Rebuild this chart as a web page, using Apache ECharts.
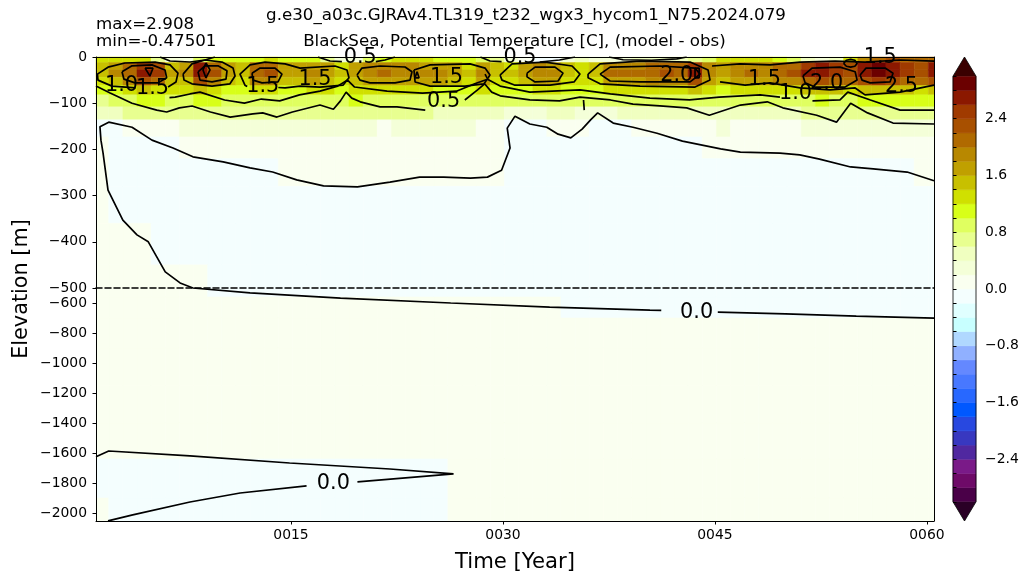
<!DOCTYPE html>
<html><head><meta charset="utf-8">
<script src="https://cdn.jsdelivr.net/npm/echarts@6/dist/echarts.min.js"></script>
<style>html,body{margin:0;padding:0;background:#fff}#c{width:1029px;height:584px}</style>
</head><body><div id="c"></div>
<script>
// ---------------- data ----------------
const years = [1,2,3,4,5,6,7,8,9,10,11,12,13,14,15,16,17,18,19,20,21,22,23,24,25,26,27,28,29,30,
               31,32,33,34,35,36,37,38,39,40,41,42,43,44,45,46,47,48,49,50,51,52,53,54,55,56,57,58,59,60];
const depthEdges = [0,12,28,44,62,82,108,136,173,220,280,360,450,560,700,900,1150,1400,1640,1900,2060];

const lev00 = [1.3,1.3,1.3,1.3,0.6,0.3,0.3,0.8,1.0,1.1, 1.1,1.1,1.2,1.1,1.1,1.0,0.7,0.3,0.3,0.9,
               1.1,1.2,1.2,1.2,1.1,1.1,1.0,0.9,0.6,0.3, 0.1,-0.1,-0.1,0.3,0.5,0.3,0.3,0.3,0.4,0.4,
               0.4,0.5,0.6,0.8,1.2,1.3,1.3,1.2,1.1,0.9, 0.5,0.3,0.4,1.2,1.9,2.1,2.2,2.1,2.0,2.1];
const lev01 = [1.4,1.7,2.0,2.5,2.3,1.5,1.7,2.6,2.1,1.6, 1.4,2.0,2.1,1.6,1.6,1.7,1.6,1.3,1.6,1.9,
               1.9,1.9,1.8,1.7,1.7,1.6,1.3,1.7,1.4,1.3, 1.6,1.8,1.7,1.4,1.2,1.4,1.9,1.9,1.9,2.0,
               2.1,2.0,2.5,1.8,1.6,1.8,1.9,1.8,2.0,2.1, 2.4,2.6,2.4,2.2,2.6,2.9,2.6,2.4,2.2,2.6];
const lev02 = [1.5,1.8,2.1,2.7,2.5,1.6,1.8,2.7,2.3,1.7, 1.5,2.1,2.2,1.7,1.7,1.8,1.7,1.4,1.7,1.9,
               2.0,1.9,1.9,1.8,1.8,1.7,1.4,1.8,1.5,1.4, 1.7,1.9,1.8,1.5,1.3,1.5,2.0,2.0,2.0,2.1,
               2.2,2.1,2.6,1.9,1.7,1.9,2.0,1.9,2.1,2.3, 2.6,2.7,2.5,2.3,2.7,2.9,2.7,2.5,2.3,2.6];
const lev03 = [1.3,1.5,1.8,2.3,2.1,1.4,1.5,2.3,1.9,1.5, 1.3,1.8,1.9,1.5,1.5,1.6,1.5,1.3,1.5,1.7,
               1.7,1.7,1.6,1.6,1.6,1.5,1.3,1.6,1.3,1.3, 1.5,1.7,1.6,1.3,1.2,1.3,1.7,1.7,1.7,1.8,
               1.9,1.8,2.2,1.6,1.5,1.6,1.7,1.6,1.8,1.9, 2.1,2.3,2.1,2.0,2.3,2.5,2.3,2.1,2.0,2.3];
const lev04 = [1.0,1.1,1.2,1.4,1.3,1.2,1.2,1.4,1.3,1.1, 1.1,1.3,1.3,1.1,1.1,1.2,1.2,1.1,1.2,1.2,
               1.2,1.2,1.2,1.2,1.1,1.1,1.1,1.2,1.1,1.1, 1.1,1.2,1.2,1.1,1.0,1.1,1.2,1.2,1.2,1.3,
               1.3,1.3,1.4,1.2,1.1,1.2,1.2,1.2,1.3,1.3, 1.4,1.5,1.4,1.3,1.4,1.5,1.5,1.4,1.3,1.4];
const lev05 = [0.7,0.8,0.9,1.0,1.0,0.9,0.9,1.0,1.0,0.9, 0.8,0.9,0.9,0.9,0.9,0.9,0.9,0.9,1.0,0.9,
               0.9,0.9,0.9,0.8,0.8,0.8,0.8,0.9,0.9,0.8, 0.8,0.9,0.9,0.8,0.8,0.8,0.9,0.9,0.9,0.9,
               0.9,0.9,0.9,0.8,0.9,0.9,0.9,0.9,0.9,0.9, 0.9,1.0,0.9,0.9,1.0,1.1,1.1,1.1,1.0,1.0];
const lev06 = [0.4,0.5,0.6,0.7,0.7,0.6,0.6,0.6,0.7,0.7, 0.6,0.6,0.6,0.7,0.6,0.6,0.6,0.6,0.6,0.6,
               0.6,0.6,0.6,0.6,0.5,0.5,0.5,0.5,0.4,0.3, 0.2,0.3,0.4,0.4,0.3,0.2,0.3,0.4,0.5,0.5,
               0.5,0.5,0.5,0.5,0.5,0.4,0.4,0.4,0.5,0.5, 0.6,0.6,0.7,0.7,0.7,0.7,0.7,0.7,0.7,0.7];
const lev07 = [-0.1,-0.1,0.1,0.1,0.1,0.1,0.2,0.2,0.3,0.3, 0.3,0.3,0.3,0.3,0.3,0.3,0.3,0.3,0.3,0.2,
               0.1,0.3,0.3,0.3,0.3,0.3,0.2,0.1,0.1,-0.1, -0.1,-0.1,0.1,0.1,0.1,-0.1,-0.1,-0.1,0.1,0.1,
               0.1,0.1,0.1,0.1,0.2,0.1,0.1,0.1,0.1,0.1, 0.2,0.2,0.2,0.3,0.3,0.3,0.3,0.3,0.3,0.3];
const lev08 = [0.1,-0.1,-0.1,-0.1,-0.1,-0.1,0.1,0.1,0.1,0.1, 0.1,0.1,0.1,0.1,0.1,0.1,0.1,0.1,0.1,0.1,
               0.1,0.1,0.1,0.1,0.1,0.1,0.1,0.1,0.1,-0.1, -0.1,-0.1,-0.1,-0.1,-0.1,-0.1,-0.1,-0.1,-0.1,-0.1,
               -0.1,-0.1,-0.1,0.1,0.1,0.1,0.1,0.1,0.1,0.1, 0.1,0.1,0.1,0.1,0.1,0.1,0.1,0.1,0.1,0.1];
const lev09 = [0.1,-0.1,-0.1,-0.1,-0.1,-0.1,-0.1,-0.1,-0.1,-0.1, -0.1,-0.1,-0.1,0.1,0.1,0.1,0.1,0.1,0.1,0.1,
               0.1,0.1,0.1,0.1,0.1,0.1,0.1,0.1,0.1,-0.1, -0.1,-0.1,-0.1,-0.1,-0.1,-0.1,-0.1,-0.1,-0.1,-0.1,
               -0.1,-0.1,-0.1,-0.1,-0.1,-0.1,-0.1,-0.1,-0.1,-0.1, -0.1,-0.1,-0.1,-0.1,-0.1,-0.1,-0.1,-0.1,0.1,0.1];
const lev10 = [0.1,-0.1,-0.1,-0.1,-0.1,-0.1,-0.1,-0.1,-0.1,-0.1, -0.1,-0.1,-0.1,-0.1,-0.1,-0.1,-0.1,-0.1,-0.1,-0.1,
               -0.1,-0.1,-0.1,-0.1,-0.1,-0.1,-0.1,-0.1,-0.1,-0.1, -0.1,-0.1,-0.1,-0.1,-0.1,-0.1,-0.1,-0.1,-0.1,-0.1,
               -0.1,-0.1,-0.1,-0.1,-0.1,-0.1,-0.1,-0.1,-0.1,-0.1, -0.1,-0.1,-0.1,-0.1,-0.1,-0.1,-0.1,-0.1,-0.1,-0.1];
const lev11 = [0.1,0.1,0.1,0.1,-0.1,-0.1,-0.1,-0.1,-0.1,-0.1, -0.1,-0.1,-0.1,-0.1,-0.1,-0.1,-0.1,-0.1,-0.1,-0.1,
               -0.1,-0.1,-0.1,-0.1,-0.1,-0.1,-0.1,-0.1,-0.1,-0.1, -0.1,-0.1,-0.1,-0.1,-0.1,-0.1,-0.1,-0.1,-0.1,-0.1,
               -0.1,-0.1,-0.1,-0.1,-0.1,-0.1,-0.1,-0.1,-0.1,-0.1, -0.1,-0.1,-0.1,-0.1,-0.1,-0.1,-0.1,-0.1,-0.1,-0.1];
const lev12 = [0.1,0.1,0.1,0.1,0.1,0.1,0.1,0.1,-0.1,-0.1, -0.1,-0.1,-0.1,-0.1,-0.1,-0.1,-0.1,-0.1,-0.1,-0.1,
               -0.1,-0.1,-0.1,-0.1,-0.1,-0.1,-0.1,-0.1,-0.1,-0.1, -0.1,-0.1,-0.1,-0.1,-0.1,-0.1,-0.1,-0.1,-0.1,-0.1,
               -0.1,-0.1,-0.1,-0.1,-0.1,-0.1,-0.1,-0.1,-0.1,-0.1, -0.1,-0.1,-0.1,-0.1,-0.1,-0.1,-0.1,-0.1,-0.1,-0.1];
const lev13 = [0.1,0.1,0.1,0.1,0.1,0.1,0.1,0.1,0.1,0.1, 0.1,0.1,0.1,0.1,0.1,0.1,0.1,0.1,0.1,0.1,
               0.1,0.1,0.1,0.1,0.1,0.1,0.1,0.1,0.1,0.1, 0.1,0.1,0.1,-0.1,-0.1,-0.1,-0.1,-0.1,-0.1,-0.1,
               -0.1,-0.1,-0.1,-0.1,-0.1,-0.1,-0.1,-0.1,-0.1,-0.1, -0.1,-0.1,-0.1,-0.1,-0.1,-0.1,-0.1,-0.1,-0.1,-0.1];
const lev14 = [0.1,0.1,0.1,0.1,0.1,0.1,0.1,0.1,0.1,0.1, 0.1,0.1,0.1,0.1,0.1,0.1,0.1,0.1,0.1,0.1,
               0.1,0.1,0.1,0.1,0.1,0.1,0.1,0.1,0.1,0.1, 0.1,0.1,0.1,0.1,0.1,0.1,0.1,0.1,0.1,0.1,
               0.1,0.1,0.1,0.1,0.1,0.1,0.1,0.1,0.1,0.1, 0.1,0.1,0.1,0.1,0.1,0.1,0.1,0.1,0.1,0.1];
const lev15 = [0.1,0.1,0.1,0.1,0.1,0.1,0.1,0.1,0.1,0.1, 0.1,0.1,0.1,0.1,0.1,0.1,0.1,0.1,0.1,0.1,
               0.1,0.1,0.1,0.1,0.1,0.1,0.1,0.1,0.1,0.1, 0.1,0.1,0.1,0.1,0.1,0.1,0.1,0.1,0.1,0.1,
               0.1,0.1,0.1,0.1,0.1,0.1,0.1,0.1,0.1,0.1, 0.1,0.1,0.1,0.1,0.1,0.1,0.1,0.1,0.1,0.1];
const lev16 = [0.1,0.1,0.1,0.1,0.1,0.1,0.1,0.1,0.1,0.1, 0.1,0.1,0.1,0.1,0.1,0.1,0.1,0.1,0.1,0.1,
               0.1,0.1,0.1,0.1,0.1,0.1,0.1,0.1,0.1,0.1, 0.1,0.1,0.1,0.1,0.1,0.1,0.1,0.1,0.1,0.1,
               0.1,0.1,0.1,0.1,0.1,0.1,0.1,0.1,0.1,0.1, 0.1,0.1,0.1,0.1,0.1,0.1,0.1,0.1,0.1,0.1];
const lev17 = [0.05,0.05,0.05,0.05,0.05,0.05,0.05,0.05,0.05,0.05, 0.05,0.05,0.05,0.05,0.05,0.05,0.05,0.05,0.05,0.05,
               0.05,0.05,0.05,0.05,0.05,0.05,0.05,0.05,0.05,0.05, 0.1,0.1,0.1,0.1,0.1,0.1,0.1,0.1,0.1,0.1,
               0.1,0.1,0.1,0.1,0.1,0.1,0.1,0.1,0.1,0.1, 0.1,0.1,0.1,0.1,0.1,0.1,0.1,0.1,0.1,0.1];
const lev18 = [-0.1,-0.1,-0.1,-0.1,-0.1,-0.1,-0.1,-0.1,-0.1,-0.1, -0.1,-0.1,-0.1,-0.1,-0.1,-0.1,-0.1,-0.1,-0.1,-0.1,
               -0.05,-0.05,-0.05,-0.05,-0.05,0.05,0.05,0.05,0.05,0.05, 0.05,0.05,0.05,0.05,0.05,0.05,0.05,0.05,0.05,0.05,
               0.05,0.05,0.05,0.05,0.05,0.05,0.05,0.05,0.05,0.05, 0.05,0.05,0.05,0.05,0.05,0.05,0.05,0.05,0.05,0.05];
const lev19 = [0.05,-0.1,-0.1,-0.1,-0.1,-0.1,-0.1,-0.1,-0.1,-0.1, -0.1,-0.1,-0.1,-0.1,-0.1,-0.1,-0.1,-0.1,-0.1,-0.1,
               -0.05,-0.05,-0.05,-0.05,-0.05,0.05,0.05,0.05,0.05,0.05, 0.05,0.05,0.05,0.05,0.05,0.05,0.05,0.05,0.05,0.05,
               0.05,0.05,0.05,0.05,0.05,0.05,0.05,0.05,0.05,0.05, 0.05,0.05,0.05,0.05,0.05,0.05,0.05,0.05,0.05,0.05];

// contour lines: [year, elevation m]
const zeroUpper = [[60.5,-268],[58.6,-249],[56.2,-242],[54.6,-238],[52.4,-221],[51.0,-212],[49.6,-208],[46.8,-206],[45.4,-199],[42.7,-182],[40.9,-165],[39.2,-152],[37.8,-143],[36.7,-121],[36.2,-136],[35.6,-156],[34.8,-175],[33.9,-167],[33.1,-152],[31.9,-145],[30.85,-128],[30.3,-154],[30.5,-197],[29.9,-245],[28.9,-260],[27.7,-262],[25.8,-260],[24.1,-260],[22.0,-271],[19.7,-281],[17.3,-279],[15.4,-266],[13.7,-249],[12.1,-240],[10.2,-227],[8.06,-216],[6.65,-197],[5.16,-180],[3.75,-152],[2.1,-141],[1.48,-151],[1.55,-180],[1.7,-208],[2.05,-288],[3.1,-353],[4.1,-385],[4.9,-400],[6.1,-465],[7.15,-489],[8.06,-500]];
const zeroTick = [[35.7,-93],[35.75,-115]];
const zeroLowerA = [[8.06,-500],[12.1,-533],[18.5,-567],[26.3,-600],[33.3,-627],[40.4,-647],[41.2,-649]];
const zeroLowerB = [[45.2,-661],[50.0,-673],[55.0,-687],[60.5,-701]];
const zeroDeepA = [[1.2,-1625],[2.1,-1587],[7.85,-1620],[14.9,-1667],[22.0,-1707],[26.5,-1740],[19.7,-1793]];
const zeroDeepB = [[16.1,-1820],[11.4,-1867],[7.85,-1927],[3.8,-2013],[2.05,-2053]];
const c05a = [[1.2,-63],[2.2,-78],[3.75,-100],[5.5,-115],[6.2,-119],[7.1,-110],[8.0,-106],[9.3,-119],[10.7,-130],[12.3,-123],[13.0,-121],[14.0,-130],[15.1,-119],[17.05,-104],[18.0,-113],[18.5,-95],[18.9,-76],[19.3,-89],[19.9,-97],[21.3,-108],[22.5,-108],[24.5,-115]];
const c05b = [[27.3,-93],[28.2,-71],[28.7,-58],[29.2,-76],[29.8,-84],[31.9,-93],[34.0,-95],[35.45,-87],[37.6,-93],[39.2,-102],[41.1,-106],[43.0,-110],[44.6,-126],[46.8,-104],[48.7,-97],[49.8,-110],[52.2,-126],[53.6,-141],[54.6,-100],[55.8,-121],[57.6,-143],[60.5,-145]];
const c10a = [[6.4,-88],[6.8,-87],[7.85,-80],[8.56,-76],[10.3,-93],[11.7,-100],[12.9,-91],[14.2,-95],[15.6,-82],[17.05,-74],[18.3,-63],[19.0,-50],[19.5,-65],[21.8,-74],[24.3,-78],[26.7,-74],[28.0,-58],[28.9,-48],[29.8,-63],[31.9,-76],[35.45,-71],[37.6,-80],[40.4,-89],[43.2,-93],[45.3,-87],[48.2,-82],[49.6,-87]];
const c10b = [[51.9,-95],[53.85,-93],[54.4,-76],[56.0,-93],[58.1,-115],[60.5,-115]];
const loopA = [[4.0,-67],[2.33,-63],[1.34,-50],[1.3,-37],[2.05,-22],[3.25,-13],[5.38,-11],[6.44,-17],[7.0,-35],[6.86,-54],[6.3,-65]];
const loopA2 = [[3.04,-32],[3.75,-19],[5.16,-17],[6.08,-28],[6.2,-45],[5.59,-56],[3.96,-56],[3.18,-48],[3.04,-32]];
const triA = [[4.67,-24],[5.23,-24],[5.02,-41],[4.67,-24]];
const loopB = [[7.36,-37],[7.99,-15],[8.91,-6.5],[10.12,-11],[10.9,-24],[11.04,-41],[10.68,-58],[9.41,-63],[7.99,-58],[7.43,-50],[7.36,-37]];
const loopB2 = [[8.42,-32],[8.91,-19],[9.83,-19],[10.47,-30],[10.4,-48],[9.41,-54],[8.56,-50],[8.42,-32]];
const diamB = [[8.98,-13],[9.27,-28],[8.98,-45],[8.77,-28],[8.98,-13]];
const loopC = [[14.1,-66],[14.58,-67],[15.64,-63],[17.05,-65],[18.68,-61],[19.1,-45],[18.96,-28],[18.11,-19.5],[15.64,-24],[14.58,-15],[13.16,-11],[12.1,-17],[11.39,-37],[11.74,-61],[11.9,-64]];
const loopC2 = [[12.24,-35],[12.81,-24],[13.87,-24],[14.36,-37],[14.08,-54],[12.95,-56],[12.31,-50],[12.24,-35]];
const loopD = [[19.67,-39],[20.02,-24],[21.3,-19.5],[23.07,-21.6],[23.56,-32],[23.42,-50],[22.36,-56],[20.59,-56],[19.88,-50],[19.67,-39]];
const triD = [[23.78,-45],[24.06,-45],[23.92,-32],[23.78,-45]];
const loopE = [[23.7,-28],[24.84,-17],[27.67,-15],[28.73,-24],[29.08,-39],[28.66,-58],[27.31,-63],[24.84,-63],[23.78,-54],[23.7,-28]];
const dotE = [[28.73,-37],[28.87,-37],[28.87,-45],[28.73,-45],[28.73,-37]];
const loopF = [[29.79,-39],[30.64,-15],[32.98,-11],[34.89,-19.5],[35.45,-37],[35.03,-54],[33.33,-61],[30.85,-61],[29.93,-50],[29.79,-39]];
const loopF2 = [[31.7,-35],[32.27,-22],[33.68,-22],[34.25,-35],[33.9,-52],[32.27,-54],[31.7,-43],[31.7,-35]];
const loopG = [[36.02,-37],[36.87,-15],[39.7,-9],[43.24,-11],[44.51,-28],[44.65,-50],[43.59,-65],[39.7,-63],[36.87,-58],[36.02,-45],[36.02,-37]];
const loopG2 = [[36.87,-37],[37.58,-22],[41.12,-19.5],[43.59,-24],[43.95,-37],[43.24,-54],[39.7,-54],[37.58,-52],[36.87,-37]];
const ringG = [[43.59,-24],[43.88,-24],[43.88,-45],[43.59,-45],[43.59,-24]];
const loopH = [[51.23,-41],[51.87,-24],[53.85,-22],[54.92,-32],[55.06,-50],[54.21,-65],[52.08,-65],[51.38,-56],[51.23,-41]];
const loopH2 = [[55.27,-39],[55.69,-24],[57.04,-24],[57.6,-35],[57.39,-54],[55.98,-56],[55.41,-50],[55.27,-39]];
const ringH = [[54.1,-14],[54.3,-7],[54.6,-5],[54.9,-7],[55.06,-14],[54.9,-20],[54.6,-22],[54.3,-20],[54.1,-14]];
const lineR2 = [[45.36,-54],[47.13,-61],[48.9,-56],[51.02,-67],[53.15,-71],[54.92,-67],[55.62,-82],[58.1,-76],[60.5,-61]];
const lineR3 = [[44.79,-19.5],[46.78,-15],[48.9,-17],[51.02,-11],[53.5,-9],[55.62,-11],[58.1,-6.5],[60.5,-9]];
const surfA = [[5.73,0],[6.44,-8.7],[7.85,-10.8],[8.91,-6.5],[9.62,0]];
const surfB1 = [[16.9,0],[17.76,-8.7],[18.6,-10]];
const surfB2 = [[21.0,-10],[21.65,-6.5],[22.36,0]];
const surfC1 = [[28.4,0],[29.08,-8.7],[29.9,-10]];
const surfC2 = [[32.6,-10.8],[34.0,-6.5],[35.1,0]];
const surfD = [[37.5,0],[38.5,-6],[40.5,-7],[42.3,-4],[43.0,0]];

const labelsUpper = [['1.0',3.0,-61],['1.5',5.2,-69],['1.5',13.0,-65],['1.5',16.7,-48],['1.5',26.0,-45],['0.5',25.8,-97],
                     ['2.0',42.3,-41],['1.5',48.5,-50],['1.0',50.7,-80],['2.0',52.9,-58],['2.5',58.2,-63],
                     ['0.5',19.9,-2],['0.5',31.2,-2],['1.5',56.7,-2]];
const labelsLower = [['0.0',43.7,-661],['0.0',18.0,-1806]];

const cbLevels = [-3.0,-2.8,-2.6,-2.4,-2.2,-2.0,-1.8,-1.6,-1.4,-1.2,-1.0,-0.8,-0.6,-0.4,-0.2,0.0,
                  0.2,0.4,0.6,0.8,1.0,1.2,1.4,1.6,1.8,2.0,2.2,2.4,2.6,2.8,3.0];
const cbTickLabels = [-2.4,-1.6,-0.8,0.0,0.8,1.6,2.4];
const xTicks = [15,30,45,60];
const yTicksLower = [-600,-800,-1000,-1200,-1400,-1600,-1800,-2000];

// ---------------- styles ----------------
const cbColors = ['#4a0048','#6e0a68','#7a1a88','#5028a0','#3838c0','#2848e0','#0058ff','#2868ff','#4878ff','#6488ff',
                  '#90b0ff','#b0d8ff','#c8ffff','#e0ffff','#f4fefe','#fafff0','#f4ffd8','#f0ffc0','#e8ff90','#e0ff60',
                  '#d8ff18','#d0e000','#c8c000','#c0a000','#b88800','#b06a00','#a85000','#a03a00','#8b1800','#6b0000'];
const overColor = '#3a0000', underColor = '#2a0026';
const FONT = 'DejaVu Sans';
const cbExt = 3.27;

function colorFor(v){
  if (v >= cbLevels[cbLevels.length-1]) return overColor;
  if (v < cbLevels[0]) return underColor;
  for (let i = cbLevels.length-2; i >= 0; i--) if (v >= cbLevels[i] - 1e-9) return cbColors[i];
  return underColor;
}
const fmtMinus = v => (v < 0 ? '\u2212' + String(Math.abs(v)) : String(v));

const rows = [lev00,lev01,lev02,lev03,lev04,lev05,lev06,lev07,lev08,lev09,lev10,lev11,lev12,lev13,lev14,lev15,lev16,lev17,lev18,lev19];
const cells = [];
rows.forEach((row, r) => row.forEach((v, i) => cells.push([years[i]+0.1, years[i]+1.1, -depthEdges[r], -depthEdges[r+1], v])));

function renderCell(params, api){
  const a = api.coord([api.value(0), api.value(2)]);
  const b = api.coord([api.value(1), api.value(3)]);
  const cs = params.coordSys;
  const shape = echarts.graphic.clipRectByRect(
    {x: Math.min(a[0],b[0]), y: Math.min(a[1],b[1]), width: Math.abs(b[0]-a[0]), height: Math.abs(b[1]-a[1])},
    {x: cs.x, y: cs.y, width: cs.width, height: cs.height});
  if (!shape) return null;
  const c = colorFor(api.value(4));
  return {type:'rect', shape: shape, style:{fill:c, stroke:c, lineWidth:0.5}};
}

const upperLines = [zeroUpper, zeroTick, c05a, c05b, c10a, c10b, loopA, loopA2, triA, loopB, loopB2, diamB, loopC, loopC2,
                    loopD, triD, loopE, dotE, loopF, loopF2, loopG, loopG2, ringG, loopH, loopH2, ringH, lineR2, lineR3,
                    surfA, surfB1, surfB2, surfC1, surfC2, surfD];
const lowerLines = [zeroLowerA, zeroLowerB, zeroDeepA, zeroDeepB];

const series = [];
series.push({type:'custom', xAxisIndex:0, yAxisIndex:0, renderItem: renderCell, data: cells, encode:{x:[0,1], y:[2,3]}, silent:true, z:1});
series.push({type:'custom', xAxisIndex:2, yAxisIndex:2, renderItem: renderCell, data: cells, encode:{x:[0,1], y:[2,3]}, silent:true, z:1});
upperLines.forEach(d => series.push({type:'line', xAxisIndex:0, yAxisIndex:0, data:d, symbol:'none', showSymbol:false, silent:true, z:5,
  lineStyle:{color:'#000', width:1.7}}));
lowerLines.forEach(d => series.push({type:'line', xAxisIndex:2, yAxisIndex:2, data:d, symbol:'none', showSymbol:false, silent:true, z:5,
  lineStyle:{color:'#000', width:1.7}}));
const labelStyle = {show:true, position:'inside', formatter: p => p.value[2], fontSize:20.8, fontFamily:FONT, color:'#000', opacity:1};
series.push({type:'scatter', xAxisIndex:0, yAxisIndex:0, symbolSize:0, silent:true, z:6, itemStyle:{opacity:1},
  data: labelsUpper.map(l => [l[1], l[2], l[0]]), encode:{x:0, y:1}, label: labelStyle});
series.push({type:'scatter', xAxisIndex:2, yAxisIndex:2, symbolSize:0, silent:true, z:6, itemStyle:{opacity:1},
  data: labelsLower.map(l => [l[1], l[2], l[0]]), encode:{x:0, y:1}, label: labelStyle});

// colorbar
series.push({type:'custom', xAxisIndex:3, yAxisIndex:4, silent:true, z:2,
  data: cbColors.map((c,i) => [cbLevels[i], cbLevels[i+1], i]), encode:{y:[0,1]},
  renderItem: (params, api) => {
    const a = api.coord([0, api.value(0)]), b = api.coord([1, api.value(1)]);
    return {type:'rect', shape:{x:a[0], y:b[1], width:b[0]-a[0], height:a[1]-b[1]},
      style:{fill:cbColors[api.value(2)], stroke:cbColors[api.value(2)], lineWidth:0.5}};
  }});
series.push({type:'custom', xAxisIndex:3, yAxisIndex:4, silent:true, z:2,
  data: [[cbLevels[cbLevels.length-1], cbExt, 1], [cbLevels[0], -cbExt, 0]], encode:{y:[0,1]},
  renderItem: (params, api) => {
    const v0 = api.value(0), v1 = api.value(1);
    const p1 = api.coord([0, v0]), p2 = api.coord([1, v0]), p3 = api.coord([0.5, v1]);
    return {type:'polygon', shape:{points:[p1,p2,p3]}, style:{fill: api.value(2) ? overColor : underColor}};
  }});
series.push({type:'custom', xAxisIndex:3, yAxisIndex:4, silent:true, z:3,
  data: [[cbLevels[0], cbLevels[cbLevels.length-1]]], encode:{y:[0,1]},
  renderItem: (params, api) => {
    const lo = api.value(0), hi = api.value(1);
    const pts = [api.coord([0,lo]), api.coord([0.5,-cbExt]), api.coord([1,lo]), api.coord([1,hi]), api.coord([0.5,cbExt]), api.coord([0,hi])];
    return {type:'polygon', shape:{points:pts}, style:{fill:null, stroke:'#000', lineWidth:0.8}};
  }});

const axisCommon = {
  axisLine:{show:true, onZero:false, lineStyle:{color:'#000', width:1}},
  axisTick:{show:true, length:3.5, lineStyle:{color:'#000', width:1}},
  axisLabel:{color:'#000', fontSize:13.9, fontFamily:FONT},
  splitLine:{show:false}, z:10
};
const hiddenBits = {axisTick:{show:false}, axisLabel:{show:false}, splitLine:{show:false}};

const option = {
  animation:false,
  backgroundColor:'#fff',
  textStyle:{fontFamily:FONT},
  grid:[
    {left:96, top:57, width:838, height:231},
    {left:96, top:288, width:838, height:233},
    {left:953, top:57, width:23, height:464}
  ],
  xAxis:[
    Object.assign({type:'value', gridIndex:0, min:1.2, max:60.5, position:'bottom', z:10,
      axisLine:{show:true, onZero:false, lineStyle:{color:'#000', width:1.5, type:[6,3]}}}, hiddenBits),
    Object.assign({type:'value', gridIndex:0, min:1.2, max:60.5, position:'top', z:10,
      axisLine:{show:true, onZero:false, lineStyle:{color:'#000', width:1}}}, hiddenBits),
    Object.assign({}, axisCommon, {type:'value', gridIndex:1, min:1.2, max:60.5, position:'bottom',
      axisTick:{show:true, length:3.5, customValues:xTicks, lineStyle:{color:'#000', width:1}},
      axisLabel:{color:'#000', fontSize:13.9, fontFamily:FONT, margin:7, customValues:xTicks,
        formatter: v => String(v).padStart(4,'0')}}),
    {type:'value', gridIndex:2, min:0, max:1, show:false}
  ],
  yAxis:[
    Object.assign({}, axisCommon, {type:'value', gridIndex:0, min:-500, max:0, interval:100, position:'left',
      axisLabel:{color:'#000', fontSize:13.9, fontFamily:FONT, margin:9, formatter: fmtMinus}}),
    Object.assign({type:'value', gridIndex:0, min:-500, max:0, position:'right', z:10,
      axisLine:{show:true, onZero:false, lineStyle:{color:'#000', width:1}}}, hiddenBits),
    Object.assign({}, axisCommon, {type:'value', gridIndex:1, min:-2053.6, max:-500, position:'left',
      axisTick:{show:true, length:3.5, customValues:yTicksLower, lineStyle:{color:'#000', width:1}},
      axisLabel:{color:'#000', fontSize:13.9, fontFamily:FONT, margin:9, customValues:yTicksLower, formatter: fmtMinus}}),
    Object.assign({type:'value', gridIndex:1, min:-2053.6, max:-500, position:'right', z:10,
      axisLine:{show:true, onZero:false, lineStyle:{color:'#000', width:1}}}, hiddenBits),
    {type:'value', gridIndex:2, min:-cbExt, max:cbExt, position:'right', z:10,
      axisLine:{show:false}, splitLine:{show:false},
      axisTick:{show:true, length:3.5, customValues:cbLevels, lineStyle:{color:'#000', width:1}},
      axisLabel:{color:'#000', fontSize:13.9, fontFamily:FONT, margin:9, customValues:cbTickLabels,
        formatter: v => (v < 0 ? '\u2212' + Math.abs(v).toFixed(1) : v.toFixed(1))}}
  ],
  graphic:[
    {type:'text', x:96, y:25, style:{text:'max=2.908', fontSize:16.7, fontFamily:FONT, fill:'#000', align:'left', verticalAlign:'middle'}},
    {type:'text', x:96, y:42, style:{text:'min=-0.47501', fontSize:16.7, fontFamily:FONT, fill:'#000', align:'left', verticalAlign:'middle'}},
    {type:'text', x:526, y:16, style:{text:'g.e30_a03c.GJRAv4.TL319_t232_wgx3_hycom1_N75.2024.079', fontSize:16.7, fontFamily:FONT, fill:'#000', align:'center', verticalAlign:'middle'}},
    {type:'text', x:514.5, y:42, style:{text:'BlackSea, Potential Temperature [C], (model - obs)', fontSize:16.7, fontFamily:FONT, fill:'#000', align:'center', verticalAlign:'middle'}},
    {type:'text', x:22, y:289, rotation:Math.PI/2, style:{text:'Elevation [m]', fontSize:20.8, fontFamily:FONT, fill:'#000', align:'center', verticalAlign:'middle'}},
    {type:'text', x:515, y:562, style:{text:'Time [Year]', fontSize:21.2, fontFamily:FONT, fill:'#000', align:'center', verticalAlign:'middle'}}
  ],
  series: series
};
const chart = echarts.init(document.getElementById('c'), null, {renderer:'canvas'});
chart.setOption(option);
</script>
</body></html>
